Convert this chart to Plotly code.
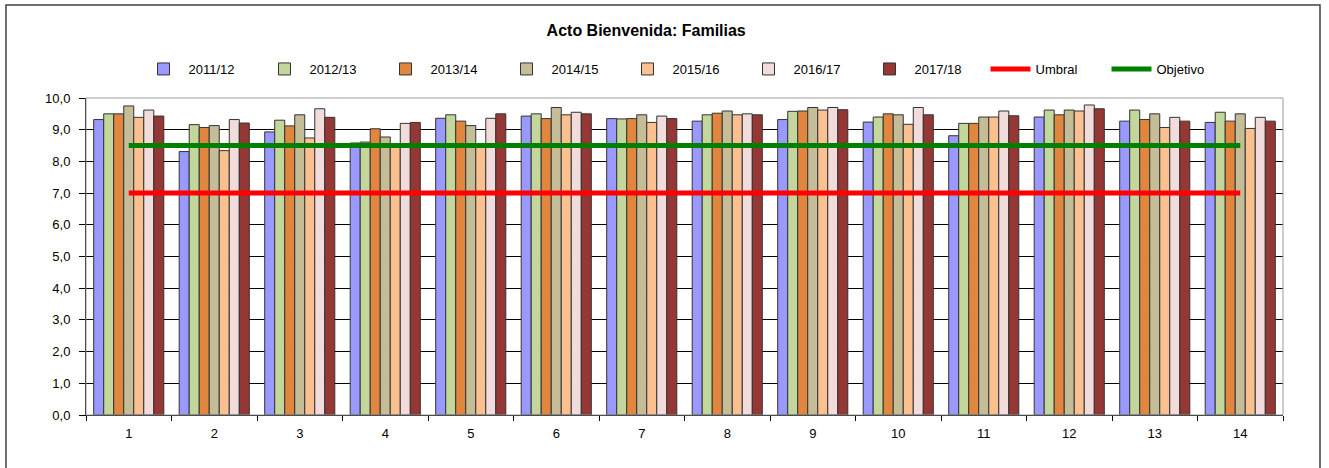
import plotly.graph_objects as go

categories = [str(i) for i in range(1, 15)]

s2011 = [9.32, 8.31, 8.93, 8.58, 9.36, 9.43, 9.35, 9.27, 9.32, 9.24, 8.81, 9.40, 9.27, 9.23]
s2012 = [9.50, 9.16, 9.30, 8.61, 9.47, 9.50, 9.34, 9.47, 9.58, 9.40, 9.20, 9.62, 9.62, 9.55]
s2013 = [9.50, 9.07, 9.12, 9.03, 9.27, 9.35, 9.35, 9.52, 9.59, 9.50, 9.20, 9.47, 9.32, 9.27]
s2014 = [9.75, 9.13, 9.47, 8.77, 9.13, 9.70, 9.47, 9.59, 9.70, 9.47, 9.40, 9.62, 9.50, 9.50]
s2015 = [9.39, 8.34, 8.74, 8.50, 8.50, 9.47, 9.23, 9.47, 9.62, 9.17, 9.40, 9.59, 9.07, 9.04]
s2016 = [9.62, 9.32, 9.66, 9.20, 9.36, 9.55, 9.43, 9.50, 9.70, 9.70, 9.59, 9.78, 9.39, 9.39]
s2017 = [9.43, 9.21, 9.39, 9.23, 9.50, 9.50, 9.35, 9.47, 9.63, 9.47, 9.44, 9.66, 9.27, 9.27]
umbral = [7.0] * 14
objetivo = [8.5] * 14

series = [
    ("2011/12", s2011, "#9999FF"),
    ("2012/13", s2012, "#C3D69B"),
    ("2013/14", s2013, "#E0863E"),
    ("2014/15", s2014, "#C4BD97"),
    ("2015/16", s2015, "#FAC090"),
    ("2016/17", s2016, "#F2DCDB"),
    ("2017/18", s2017, "#953735"),
]

fig = go.Figure()
for name, vals, col in series:
    fig.add_trace(go.Bar(x=categories, y=vals, name=name,
                         marker=dict(color=col, line=dict(color="#333333", width=1))))
fig.add_trace(go.Scatter(x=categories, y=umbral, name="Umbral", mode="lines",
                         line=dict(color="#FF0000", width=5)))
fig.add_trace(go.Scatter(x=categories, y=objetivo, name="Objetivo", mode="lines",
                         line=dict(color="#008000", width=5)))

W, H = 1329, 468
L, R, T, B = 86, 46, 98, 53
pw, ph = W - L - R, H - T - B

def px(x):
    return (x - L) / pw

def py(y):
    return (H - B - y) / ph

fig.update_layout(
    width=W, height=H,
    margin=dict(l=L, r=R, t=T, b=B),
    paper_bgcolor="white", plot_bgcolor="white",
    font=dict(family="Liberation Sans, Arial, sans-serif", size=12, color="#000000"),
    separators=",.",
    barmode="group", bargap=0.18, bargroupgap=0,
    title=dict(text="<b>Acto Bienvenida: Familias</b>", x=px(668), xanchor="center",
               y=1 - 30 / H, yanchor="middle", font=dict(size=16)),
    legend=dict(orientation="h", x=px(683), xanchor="center", y=py(69), yanchor="middle",
                font=dict(size=13), bgcolor="rgba(0,0,0,0)", traceorder="normal",
                itemwidth=40, entrywidth=66),
    showlegend=True,
    xaxis=dict(type="category", showline=True, linecolor="black", linewidth=1,
               ticks="outside", ticklen=5, tickcolor="black", tickson="boundaries",
               showgrid=False, tickfont=dict(size=13), ticklabelstandoff=6),
    yaxis=dict(range=[0, 10], dtick=1, tickformat=".1f", showline=True, linecolor="black",
               linewidth=1, ticks="outside", ticklen=6, tickcolor="black",
               showgrid=True, gridcolor="black", gridwidth=1, zeroline=False,
               tickfont=dict(size=13), ticklabelstandoff=6),
    shapes=[
        dict(type="rect", xref="paper", yref="paper", x0=0, x1=1, y0=0, y1=1,
             line=dict(color="#9a9a9a", width=1), layer="above"),
        dict(type="rect", xref="paper", yref="paper", x0=px(6), x1=px(1320), y0=py(472), y1=py(5),
             line=dict(color="#404040", width=1.5), layer="above"),
    ],
)

fig.write_html("out.html", config={"displayModeBar": False},
               post_script="document.body.style.margin='0';document.body.style.overflow='hidden';")
